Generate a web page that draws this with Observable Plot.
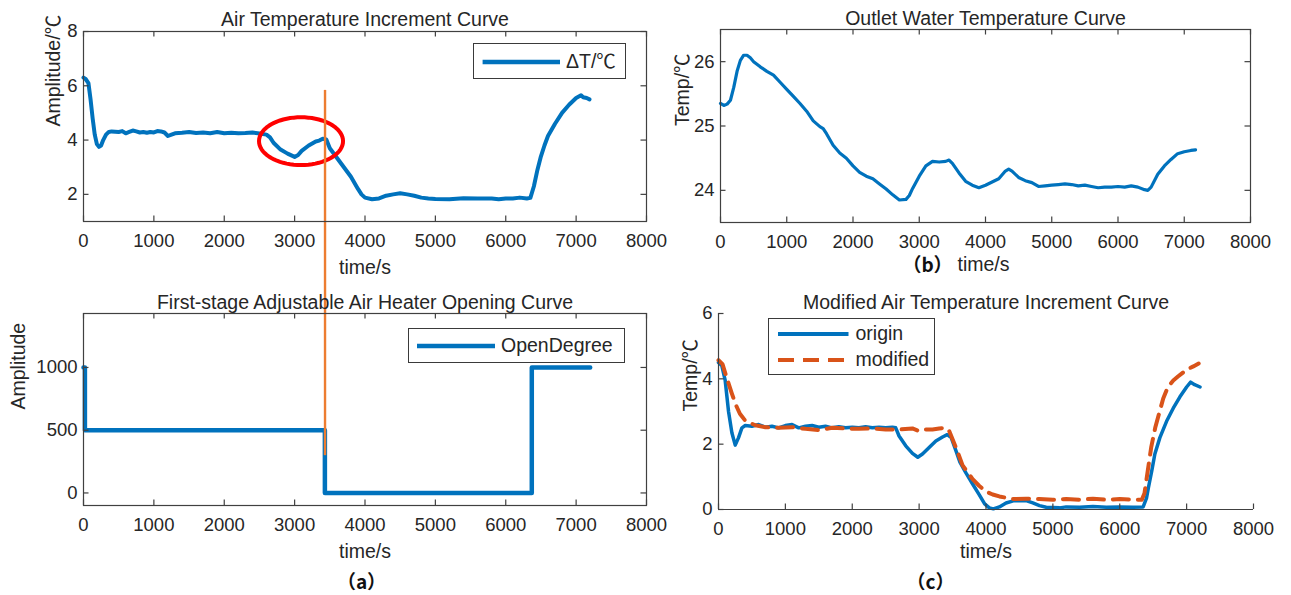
<!DOCTYPE html>
<html>
<head>
<meta charset="utf-8">
<script src="https://cdn.jsdelivr.net/npm/d3@7"></script>
<script src="https://cdn.jsdelivr.net/npm/@observablehq/plot@0.6"></script>
<style>
  html, body { margin: 0; padding: 0; background: #fff; }
  #root { position: relative; width: 1291px; height: 595px; overflow: hidden; background: #fff;
          font-family: "Liberation Sans", Arial, "Noto Sans CJK SC", sans-serif; color: #262626; }
  .pane { position: absolute; }
  .legend { position: absolute; background: #fff; border: 1.2px solid #3a3a3a; box-sizing: border-box; }
  .legend svg { position: absolute; left: 0; top: 0; overflow: visible; }
  .legend span { position: absolute; font-size: 19.5px; line-height: 1; transform: translateY(-50%); white-space: nowrap; }
</style>
</head>
<body>
<div id="root"></div>
<script>
// ---------------- data ----------------
const xTicks = [0, 1000, 2000, 3000, 4000, 5000, 6000, 7000, 8000];

// (a) top: Air temperature increment ΔT
const dtTime  = [0,30,70,100,130,160,190,220,250,280,320,360,400,500,550,600,650,700,750,800,850,900,950,1000,1050,1100,1150,1200,1250,1300,1400,1500,1600,1700,1800,1900,2000,2100,2200,2300,2400,2500,2600,2650,2700,2800,2900,3000,3050,3100,3200,3300,3350,3400,3450,3500,3600,3700,3800,3900,3950,4000,4100,4200,4300,4400,4500,4600,4700,4800,4900,5000,5200,5400,5600,5800,5900,6000,6100,6200,6300,6350,6400,6450,6500,6550,6600,6700,6800,6900,7000,7070,7100,7150,7190];
const dtValue = [6.3,6.25,6.1,5.5,4.8,4.2,3.85,3.75,3.8,4.0,4.2,4.3,4.32,4.3,4.33,4.25,4.3,4.35,4.32,4.28,4.3,4.27,4.3,4.28,4.33,4.32,4.28,4.15,4.2,4.25,4.27,4.3,4.26,4.28,4.25,4.3,4.25,4.27,4.25,4.26,4.28,4.24,4.2,4.1,3.9,3.65,3.5,3.38,3.45,3.6,3.8,3.95,3.98,4.05,4.02,3.7,3.35,3.0,2.65,2.2,2.0,1.88,1.82,1.85,1.95,2.0,2.04,2.0,1.95,1.88,1.85,1.83,1.82,1.86,1.85,1.85,1.82,1.85,1.85,1.88,1.85,1.87,2.3,2.9,3.4,3.8,4.15,4.6,5.0,5.3,5.55,5.65,5.58,5.55,5.5];
const dtYDomain = [1, 8];
const dtYTicks = [2, 4, 6, 8];

// (a) bottom: heater opening degree (step)
const openTime  = [0, 20, 3430, 6370, 7200];
const openValue = [1000, 500, 0, 1000, 1000];
const openYDomain = [-100, 1430];
const openYTicks = [0, 500, 1000];

// switch moment marked by the orange line, and the highlighted dip (ellipse)
const switchTime = 3432;
const switchTopDT = 5.83;      // top end, in ΔT units
const switchBottomOpen = 297;  // bottom end, in opening units
const dipCenter = {t: 3091, v: 3.96};
const dipRadius = {t: 597, v: 0.88};

// (b) outlet water temperature
const owTime  = [0,50,100,150,200,250,300,350,400,450,500,600,700,800,900,1000,1100,1200,1300,1400,1500,1550,1600,1700,1800,1900,2000,2100,2200,2300,2400,2500,2600,2700,2800,2850,2900,3000,3100,3200,3300,3400,3450,3500,3600,3700,3800,3900,4000,4100,4200,4300,4350,4400,4500,4600,4700,4800,4900,5000,5100,5200,5300,5400,5500,5600,5700,5800,5900,6000,6100,6200,6300,6400,6450,6500,6600,6700,6800,6900,7000,7100,7170];
const owValue = [25.35,25.32,25.34,25.4,25.6,25.85,26.02,26.1,26.1,26.06,26.0,25.92,25.85,25.79,25.68,25.57,25.46,25.35,25.23,25.08,24.99,24.96,24.88,24.7,24.58,24.5,24.38,24.28,24.22,24.18,24.1,24.02,23.93,23.85,23.86,23.92,24.03,24.22,24.38,24.45,24.44,24.45,24.47,24.42,24.27,24.14,24.08,24.04,24.08,24.13,24.18,24.3,24.33,24.3,24.2,24.15,24.12,24.06,24.07,24.08,24.09,24.1,24.09,24.07,24.08,24.06,24.04,24.05,24.05,24.06,24.05,24.07,24.05,24.01,24.0,24.05,24.25,24.38,24.48,24.57,24.6,24.62,24.63];
const owYDomain = [23.5, 26.5];
const owYTicks = [24, 25, 26];

// (c) origin vs modified
const orTime  = [0,50,100,150,200,250,300,350,400,500,600,700,800,900,1000,1100,1200,1300,1400,1500,1600,1700,1800,1900,2000,2100,2200,2300,2400,2500,2600,2650,2700,2800,2900,2980,3050,3150,3250,3350,3420,3480,3550,3610,3700,3800,3900,3980,4050,4110,4200,4300,4420,4600,4700,4800,4900,5000,5100,5200,5400,5600,5800,6000,6200,6350,6400,6430,6480,6525,6600,6700,6800,6900,7000,7060,7120,7200];
const orValue = [4.5,4.4,3.95,3.0,2.35,1.97,2.2,2.5,2.57,2.55,2.6,2.52,2.55,2.5,2.57,2.6,2.5,2.55,2.57,2.52,2.55,2.5,2.53,2.5,2.52,2.5,2.53,2.5,2.52,2.5,2.52,2.5,2.25,1.95,1.72,1.6,1.7,1.9,2.1,2.22,2.29,2.2,1.8,1.45,1.12,0.78,0.45,0.17,0.05,0.02,0.08,0.2,0.27,0.27,0.2,0.12,0.07,0.06,0.05,0.08,0.07,0.09,0.07,0.08,0.07,0.08,0.35,0.68,1.2,1.7,2.2,2.7,3.1,3.45,3.75,3.9,3.82,3.75];
const moTime  = [0,60,120,200,260,320,400,450,550,700,900,1100,1300,1500,1700,1900,2100,2300,2500,2700,2900,3000,3100,3200,3300,3400,3450,3550,3650,3800,3900,4000,4100,4200,4400,4600,4800,5000,5200,5400,5600,5800,6000,6200,6330,6370,6420,6470,6530,6590,6650,6720,6800,6870,6950,7030,7100,7180];
const moValue = [4.57,4.45,4.05,3.55,3.2,2.93,2.72,2.67,2.58,2.52,2.5,2.52,2.47,2.43,2.5,2.48,2.47,2.48,2.45,2.45,2.48,2.4,2.45,2.45,2.48,2.5,2.4,1.9,1.35,0.93,0.72,0.55,0.46,0.4,0.32,0.33,0.32,0.3,0.32,0.3,0.33,0.3,0.32,0.3,0.3,0.5,1.2,1.9,2.5,2.95,3.4,3.75,3.95,4.07,4.2,4.31,4.38,4.47];
const cYDomain = [0, 6];
const cYTicks = [0, 2, 4, 6];

// ---------------- style ----------------
const FONT = '"Liberation Sans", Arial, "Noto Sans CJK SC", sans-serif';
const CJK = '"Noto Sans CJK SC", "Noto Sans CJK JP", sans-serif';
const INK = "#262626";
const AXIS = "#404040";
const BLUE = "#0072BD";
const RED_ORANGE = "#D95319";
const ORANGE = "#ED7D31";
const RED = "#FF0000";
const TICK_FS = 18.5, LABEL_FS = 19.5, TITLE_FS = 19.5;

const zip = (ts, vs) => ts.map((t, i) => ({t, v: vs[i]}));

function valueAtPixel(domain, rangeBottom, rangeTop, p) {
  const [d0, d1] = domain;
  return d0 + (rangeBottom - p) * (d1 - d0) / (rangeBottom - rangeTop);
}

function panel(cfg) {
  const {left, top, width, height, ml, mr, mt, mb, yDomain, yTicks, box,
         title, ylabel, ylabelDx, titleDy, xlabelDy, tag, tagDx, tagDy, xlabelDx = 0, marks} = cfg;
  const innerW = width - ml - mr, innerH = height - mt - mb, tk = 5.5;
  const axisMarks = [];
  if (box) {
    axisMarks.push(Plot.frame({stroke: AXIS, strokeWidth: 1.2}));
  } else {
    axisMarks.push(Plot.ruleY([yDomain[0]], {stroke: AXIS, strokeWidth: 1.2}));
    axisMarks.push(Plot.ruleX([0], {stroke: AXIS, strokeWidth: 1.2}));
  }
  axisMarks.push(Plot.tickX(xTicks, {x: d => d, insetTop: innerH - tk, stroke: AXIS, strokeWidth: 1.2}));
  axisMarks.push(Plot.tickY(yTicks, {y: d => d, insetRight: innerW - tk, stroke: AXIS, strokeWidth: 1.2}));
  if (box) {
    axisMarks.push(Plot.tickX(xTicks, {x: d => d, insetBottom: innerH - tk, stroke: AXIS, strokeWidth: 1.2}));
    axisMarks.push(Plot.tickY(yTicks, {y: d => d, insetLeft: innerW - tk, stroke: AXIS, strokeWidth: 1.2}));
  }
  axisMarks.push(Plot.axisX(xTicks, {tickSize: 0, tickPadding: 12, label: null, tickFormat: d => String(d), fontSize: TICK_FS, fill: INK}));
  axisMarks.push(Plot.axisY(yTicks, {tickSize: 0, tickPadding: 6, label: null, tickFormat: d => String(d), fontSize: TICK_FS, fill: INK}));
  const textMarks = [
    Plot.text([title], {frameAnchor: "top", dy: titleDy, lineAnchor: "middle", fontSize: TITLE_FS, fill: INK}),
    Plot.text(["time/s"], {frameAnchor: "bottom", dx: xlabelDx, dy: xlabelDy, lineAnchor: "middle", fontSize: LABEL_FS, fill: INK}),
    Plot.text([ylabel], {frameAnchor: "left", dx: ylabelDx, rotate: -90, lineAnchor: "middle", fontSize: LABEL_FS, fill: INK})
  ];
  if (tag) textMarks.push(Plot.text([tag], {frameAnchor: "bottom", dx: tagDx, dy: tagDy, lineAnchor: "middle",
      fontSize: 19, fontWeight: "bold", fontFamily: CJK, fill: "#111"}));
  const chart = Plot.plot({
    width, height, marginLeft: ml, marginRight: mr, marginTop: mt, marginBottom: mb,
    x: {domain: [0, 8000]},
    y: {domain: yDomain},
    style: {background: "transparent", overflow: "visible", fontFamily: FONT, color: INK},
    marks: [...marks, ...axisMarks, ...textMarks]
  });
  const wrap = document.createElement("div");
  wrap.className = "pane";
  wrap.style.left = left + "px";
  wrap.style.top = top + "px";
  wrap.appendChild(chart);
  return wrap;
}

function legend(root, {left, top, width, height, rows}) {
  const box = document.createElement("div");
  box.className = "legend";
  Object.assign(box.style, {left: left + "px", top: top + "px", width: width + "px", height: height + "px"});
  const ns = "http://www.w3.org/2000/svg";
  const svg = document.createElementNS(ns, "svg");
  svg.setAttribute("width", width); svg.setAttribute("height", height);
  rows.forEach(r => {
    const ln = document.createElementNS(ns, "line");
    ln.setAttribute("x1", r.x1); ln.setAttribute("x2", r.x2);
    ln.setAttribute("y1", r.y); ln.setAttribute("y2", r.y);
    ln.setAttribute("stroke", r.color); ln.setAttribute("stroke-width", r.width);
    if (r.dash) ln.setAttribute("stroke-dasharray", r.dash);
    svg.appendChild(ln);
    const sp = document.createElement("span");
    sp.textContent = r.text;
    sp.style.left = r.tx + "px"; sp.style.top = r.y + "px";
    box.appendChild(sp);
  });
  box.insertBefore(svg, box.firstChild);
  root.appendChild(box);
}

// ---------------- build ----------------
const root = document.getElementById("root");
const dtData = zip(dtTime, dtValue);
const openData = zip(openTime, openValue);
const owData = zip(owTime, owValue);
const orData = zip(orTime, orValue);
const moData = zip(moTime, moValue);

// ellipse annotation outline (shape, in data units)
const ellipse = d3.range(0, 361, 5).map(a => ({
  t: dipCenter.t + dipRadius.t * Math.cos(a * Math.PI / 180),
  v: dipCenter.v + dipRadius.v * Math.sin(a * Math.PI / 180)
}));

const TL = {left: 0, top: 0, width: 660, height: 280, ml: 83, mr: 14, mt: 31, mb: 59};
const BL = {left: 0, top: 280, width: 660, height: 315, ml: 83, mr: 14, mt: 33, mb: 90};
const dtAtSvgBottom = valueAtPixel(dtYDomain, TL.height - TL.mb, TL.mt, TL.height);
const openAtSvgTop = valueAtPixel(openYDomain, BL.height - BL.mb, BL.mt, 0);

root.appendChild(panel({
  ...TL, yDomain: dtYDomain, yTicks: dtYTicks, box: true,
  title: "Air Temperature Increment Curve", titleDy: -12,
  ylabel: "Amplitude/℃", ylabelDx: -30, xlabelDy: 46,
  marks: [
    Plot.line(dtData, {x: "t", y: "v", stroke: BLUE, strokeWidth: 4, strokeLinejoin: "round"}),
    Plot.line(ellipse, {x: "t", y: "v", stroke: RED, strokeWidth: 4}),
    Plot.ruleX([switchTime], {y1: switchTopDT, y2: dtAtSvgBottom, stroke: ORANGE, strokeWidth: 2.4})
  ]
}));

root.appendChild(panel({
  ...BL, yDomain: openYDomain, yTicks: openYTicks, box: true,
  title: "First-stage Adjustable Air Heater Opening Curve", titleDy: -10.5,
  ylabel: "Amplitude", ylabelDx: -65, xlabelDy: 46,
  tag: "（a）", tagDx: -3.5, tagDy: 77,
  marks: [
    Plot.line(openData, {x: "t", y: "v", curve: "step-after", stroke: BLUE, strokeWidth: 4.5}),
    Plot.ruleX([switchTime], {y1: openAtSvgTop, y2: switchBottomOpen, stroke: ORANGE, strokeWidth: 2.4})
  ]
}));

root.appendChild(panel({
  left: 660, top: 0, width: 631, height: 280, ml: 60, mr: 41, mt: 29, mb: 58,
  yDomain: owYDomain, yTicks: owYTicks, box: true,
  title: "Outlet Water Temperature Curve", titleDy: -10.5,
  ylabel: "Temp/℃", ylabelDx: -38, xlabelDy: 42, xlabelDx: -2,
  tag: "（b）", tagDx: -58, tagDy: 43,
  marks: [
    Plot.line(owData, {x: "t", y: "v", stroke: BLUE, strokeWidth: 3.2, strokeLinejoin: "round"})
  ]
}));

root.appendChild(panel({
  left: 660, top: 280, width: 631, height: 315, ml: 58, mr: 38, mt: 33, mb: 86,
  yDomain: cYDomain, yTicks: cYTicks, box: false,
  title: "Modified Air Temperature Increment Curve", titleDy: -10.5,
  ylabel: "Temp/℃", ylabelDx: -28, xlabelDy: 42,
  tag: "（c）", tagDx: -55.5, tagDy: 73,
  marks: [
    Plot.line(orData, {x: "t", y: "v", stroke: BLUE, strokeWidth: 3.5, strokeLinejoin: "round"}),
    Plot.line(moData, {x: "t", y: "v", stroke: RED_ORANGE, strokeWidth: 4, strokeDasharray: "16,9"})
  ]
}));

legend(root, {left: 473, top: 43, width: 153, height: 36,
  rows: [{x1: 8.6, x2: 86, y: 18, color: BLUE, width: 4.5, text: "ΔT/℃", tx: 92}]});
legend(root, {left: 408, top: 328, width: 217, height: 35,
  rows: [{x1: 8, x2: 86, y: 17, color: BLUE, width: 4.5, text: "OpenDegree", tx: 92}]});
legend(root, {left: 768, top: 318, width: 167, height: 57,
  rows: [
    {x1: 9, x2: 79.5, y: 15, color: BLUE, width: 4, text: "origin", tx: 86.5},
    {x1: 9, x2: 79.5, y: 41, color: RED_ORANGE, width: 4, dash: "16,9", text: "modified", tx: 86.5}
  ]});
</script>
</body>
</html>
